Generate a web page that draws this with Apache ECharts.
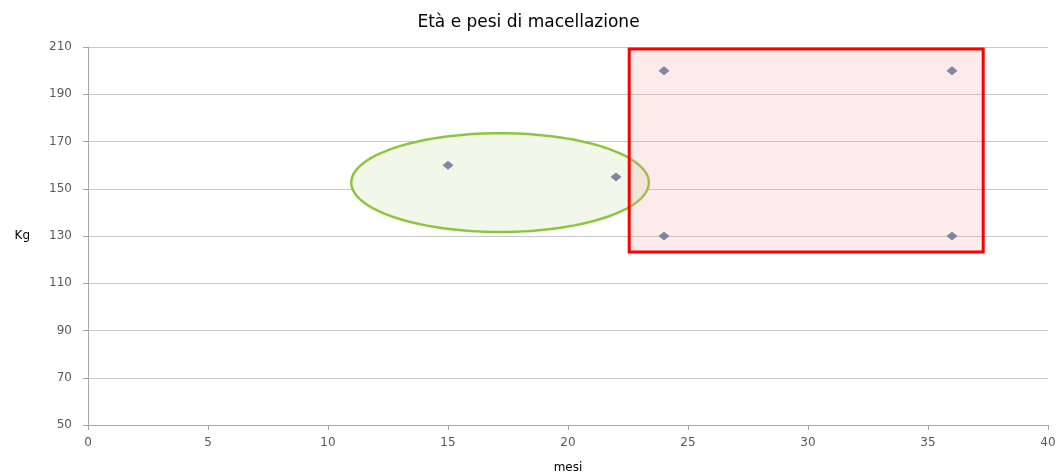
<!DOCTYPE html>
<html>
<head>
<meta charset="utf-8">
<script src="https://cdn.jsdelivr.net/npm/echarts@6/dist/echarts.min.js"></script>
<style>
  html, body { margin: 0; padding: 0; background: #fff; }
  #chart { width: 1057px; height: 472px; }
</style>
</head>
<body>
<div id="chart"></div>
<script>
// Età (mesi) e peso (kg) alla macellazione
const mesi = [15, 22, 24, 36, 24, 36];
const pesi = [160, 155, 200, 200, 130, 130];

// Zona evidenziata in rosso: [mesi min, mesi max, kg min, kg max]
const zonaRossa = [22.55, 37.3, 123.2, 209.2];
// Zona ellittica verde: [centro mesi, centro kg, semiasse mesi, semiasse kg]
const zonaVerde = [17.17, 152.6, 6.2, 20.9];

const xTicks = { min: 0, max: 40, interval: 5 };
const yTicks = { min: 50, max: 210, interval: 20 };

const chart = echarts.init(document.getElementById('chart'));

const labelFont = { fontFamily: 'DejaVu Sans', fontSize: 12, color: '#595959' };

chart.setOption({
  animation: false,
  title: {
    text: 'Età e pesi di macellazione',
    left: 'center',
    top: 9,
    textStyle: { fontFamily: 'DejaVu Sans', fontSize: 17, fontWeight: 'normal', color: '#000' }
  },
  grid: { left: 88, right: 9, top: 47, bottom: 47, outerBoundsMode: 'none', containLabel: false },
  xAxis: {
    type: 'value',
    min: xTicks.min, max: xTicks.max, interval: xTicks.interval,
    name: 'mesi',
    nameLocation: 'middle',
    nameGap: 37,
    nameTextStyle: { fontFamily: 'DejaVu Sans', fontSize: 12, color: '#000' },
    axisLine: { show: true, lineStyle: { color: '#a6a6a6' } },
    axisTick: { show: true, length: 5, inside: false, lineStyle: { color: '#a6a6a6' } },
    axisLabel: Object.assign({ margin: 12 }, labelFont),
    splitLine: { show: false }
  },
  yAxis: {
    type: 'value',
    min: yTicks.min, max: yTicks.max, interval: yTicks.interval,
    name: 'Kg',
    nameLocation: 'middle',
    nameRotate: 0,
    nameGap: 58,
    nameTextStyle: { fontFamily: 'DejaVu Sans', fontSize: 12, color: '#000' },
    axisLine: { show: true, lineStyle: { color: '#a6a6a6' } },
    axisTick: { show: true, length: 5, lineStyle: { color: '#a6a6a6' } },
    axisLabel: Object.assign({ margin: 16 }, labelFont),
    splitLine: { show: true, lineStyle: { color: '#c8c8c8', width: 1 } }
  },
  series: [
    {
      // ellisse verde
      type: 'custom',
      z: 2,
      silent: true,
      data: [zonaVerde],
      renderItem: function (params, api) {
        const cx = api.value(0), cy = api.value(1), rx = api.value(2), ry = api.value(3);
        const pts = [];
        const n = 120;
        for (let i = 0; i < n; i++) {
          const a = (i / n) * Math.PI * 2;
          pts.push(api.coord([cx + rx * Math.cos(a), cy + ry * Math.sin(a)]));
        }
        return {
          type: 'polygon',
          shape: { points: pts },
          style: { fill: '#f1f8ea', stroke: '#8cc63f', lineWidth: 2.5 }
        };
      },
      encode: { x: [0, 2], y: [1, 3] }
    },
    {
      // rettangolo rosso
      type: 'custom',
      z: 3,
      silent: true,
      data: [zonaRossa],
      renderItem: function (params, api) {
        const p1 = api.coord([api.value(0), api.value(3)]);
        const p2 = api.coord([api.value(1), api.value(2)]);
        return {
          type: 'rect',
          shape: { x: p1[0], y: p1[1], width: p2[0] - p1[0], height: p2[1] - p1[1] },
          style: { fill: 'rgba(245, 160, 160, 0.22)', stroke: '#ff0000', lineWidth: 3 }
        };
      },
      encode: { x: [0, 1], y: [2, 3] }
    },
    {
      type: 'scatter',
      z: 5,
      symbol: 'diamond',
      symbolSize: [11, 9],
      itemStyle: { color: '#676991' },
      data: mesi.map((m, i) => [m, pesi[i]])
    }
  ]
});
</script>
</body>
</html>
